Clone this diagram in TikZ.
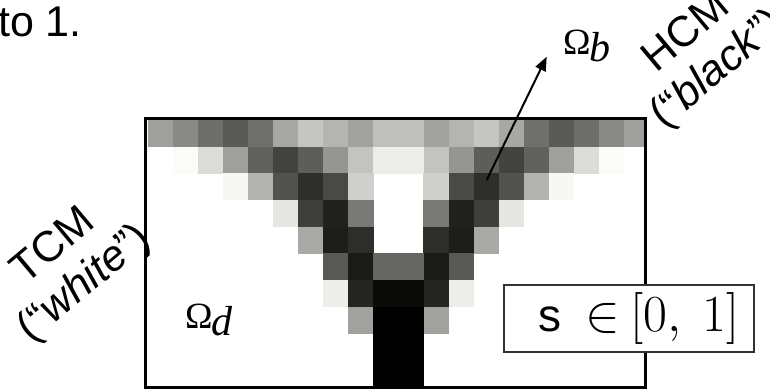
\documentclass[tikz,border=0pt]{standalone}
\usepackage{fontspec}
\setsansfont{Liberation Sans}
\newfontfamily\omfont{Liberation Serif}
\usetikzlibrary{arrows.meta}
\newcommand{\bigmath}[2]{\scalebox{#1}{\fontsize{24.88}{30}\selectfont #2}}
\newcommand{\omsub}[1]{{\omfont\fontsize{37}{42}\selectfont Ω}\kern-1.5pt\raisebox{-7pt}{\omfont\itshape\fontsize{42}{48}\selectfont #1}}
\begin{document}
\begin{tikzpicture}[x=1pt,y=-1pt,
  bigtxt/.style={font=\sffamily\fontsize{43}{48}\selectfont, inner sep=0pt},
  rottxt/.style={bigtxt, rotate=40, align=center},
  mathtxt/.style={inner sep=0pt, anchor=base west},
  frame/.style={draw=black, line width=3pt},
  sboxstyle/.style={draw=black!80, line width=1.2pt, fill=white, minimum width=250pt, minimum height=67pt, inner sep=0pt},
  arr/.style={line width=2pt, -{Triangle[length=14pt,width=11pt]}}
]
\useasboundingbox (0,0) rectangle (770,389);
\clip (0,0) rectangle (770,389);
% pixel grid
\begin{scope}
\clip (145.5,118.5) rectangle (645,387);
\foreach \row [count=\r from 0] in {
 {160,138,110,90,112,168,198,181,162,192},
 {255,252,220,160,98,68,94,150,196,237},
 {255,255,255,248,180,83,47,74,208,255},
 {255,255,255,255,255,230,64,34,122,255},
 {255,255,255,255,255,255,170,30,46,255},
 {255,255,255,255,255,255,255,90,27,102},
 {255,255,255,255,255,255,255,238,38,11},
 {255,255,255,255,255,255,255,255,162,0},
 {255,255,255,255,255,255,255,255,255,0},
 {255,255,255,255,255,255,255,255,255,0}}{
  \foreach \v [count=\c from 0] in \row {
    \ifnum\v<255
      \pgfmathtruncatemacro\bb{max(\v-4,0)}
      \pgfmathtruncatemacro\rr{max(\v-1,0)}
      \definecolor{cc}{RGB}{\rr,\v,\bb}
      \fill[cc] (148.3+25*\c,120+26.667*\r) rectangle ++(25.4,27.1);
      \fill[cc] (148.3+25*19-25*\c,120+26.667*\r) rectangle ++(25.4,27.1);
    \fi
  }
}
\end{scope}
% frame
\draw[frame] (145.5,118.5) rectangle (645.5,387.3);
% arrow to Omega_b
\coordinate (arrS) at (486.7,180);
\coordinate (arrE) at (546.7,56.7);
\draw[arr] (arrS) -- (arrE);
% labels
\node[bigtxt, anchor=base west] (t1) at (-2,36) {to 1.};
\node[mathtxt] (ob) at (563,54) {\omsub{b}};
\node[mathtxt] (od) at (185,328) {\omsub{d}};
\node[rottxt] (hcm) at (703,52) {HCM\\(“\textit{black}”)};
\node[rottxt] (tcm) at (70,266) {TCM\\(“\textit{white}”)};
% s box with its text
\node[sboxstyle] (sb) at (629,318.5)
  {\hspace{20pt}{\sffamily\fontsize{46}{52}\selectfont s}\hspace{24pt}\bigmath{2.09}{$\in$\hspace{5pt}$[0,\hspace{6pt}1]$}};
\end{tikzpicture}
\end{document}
